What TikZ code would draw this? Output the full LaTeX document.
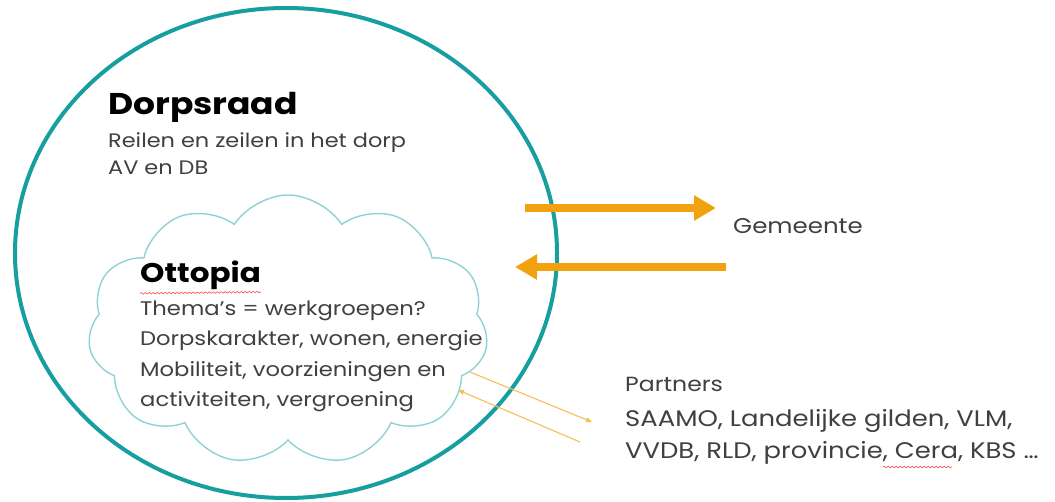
\documentclass[tikz,border=0pt]{standalone}
\usepackage{fontspec}
\setmainfont{Poppins}[FakeStretch = 1.15]
\usetikzlibrary{shapes.symbols,arrows.meta,decorations.pathmorphing}
\definecolor{teal1}{HTML}{179FA0}
\definecolor{teal2}{HTML}{8CD3D4}
\definecolor{oranje}{HTML}{F2A20F}
\definecolor{tekst}{HTML}{404040}
\tikzset{
    titel/.style = {anchor = base west, inner sep = 0, font = \bfseries\fontsize{30}{34}\selectfont, text = black},
    body/.style = {anchor = base west, inner sep = 0, font = \fontsize{19.5}{24}\selectfont, text = tekst},
    pijl/.style = {line width = 8pt, oranje, -{Triangle[length = 22pt, width = 24pt]}},
    dun/.style = {line width = 1.1pt, oranje!70, -{Triangle[length = 6pt, width = 5pt]}},
    kronkel/.style = {red!70, line width = 0.6pt, decorate, decoration = {snake, amplitude = 0.8pt, segment length = 4pt}}
}
\begin{document}
\begin{tikzpicture}[x = 1pt, y = -1pt]
        \useasboundingbox (0,0) rectangle (1055,502);
        \draw[teal1, line width = 4pt] (286,253) ellipse [x radius = 271, y radius = 245];
        \node[cloud, draw = teal2, line width = 1.4pt, cloud puffs = 11, cloud puff arc = 115,
              minimum width = 400pt, minimum height = 270pt, aspect = 1.5] (wolk) at (288,330) {};
        \node[titel] (dorpsraad) at (108,115) {Dorpsraad};
        \node[body] (reilen) at (108,148) {Reilen en zeilen in het dorp};
        \node[body] (aven) at (108,175) {AV en DB};
        \node[titel, font = \bfseries\fontsize{27}{30}\selectfont] (ottopia) at (140,283) {Ottopia};
        \begin{scope}[every node/.append style = {body, font = \fontsize{19.7}{24}\selectfont}]
            \foreach \t [count = \i] in {{Thema's = werkgroepen?}, {Dorpskarakter, wonen, energie},
                    {Mobiliteit, voorzieningen en}, {activiteiten, vergroening}} {
                \node (lijn\i) at (140,285 + 30.5*\i) {\t};
            }
        \end{scope}
        \node[body, font = \fontsize{21.3}{24}\selectfont] (gemeente) at (733,234) {Gemeente};
        \node[body, font = \fontsize{20.5}{24}\selectfont] (partners) at (625,392) {Partners};
        \node[body, font = \fontsize{22.5}{26}\selectfont] (p1) at (625,427) {SAAMO, Landelijke gilden, VLM,};
        \node[body, font = \fontsize{22.5}{26}\selectfont] (p2) at (625,458) {VVDB, RLD, provincie, Cera, KBS …};
        \coordinate (g1) at (525,208);
        \coordinate (g2) at (716,208);
        \coordinate (g3) at (726,267);
        \coordinate (g4) at (515,267);
        \draw[pijl] (g1) -- (g2);
        \draw[pijl] (g3) -- (g4);
        \coordinate (w1) at (470,372);
        \coordinate (w2) at (592,422);
        \coordinate (w3) at (580,442);
        \coordinate (w4) at (458,390);
        \draw[dun] (w1) -- (w2);
        \draw[dun] (w3) -- (w4);
        \draw[kronkel] (ottopia.south west) ++(0,3) -- (ottopia.south east |- 0,{292});
        \draw[kronkel] (883,467) -- (952,467);
    \end{tikzpicture}
\end{document}
